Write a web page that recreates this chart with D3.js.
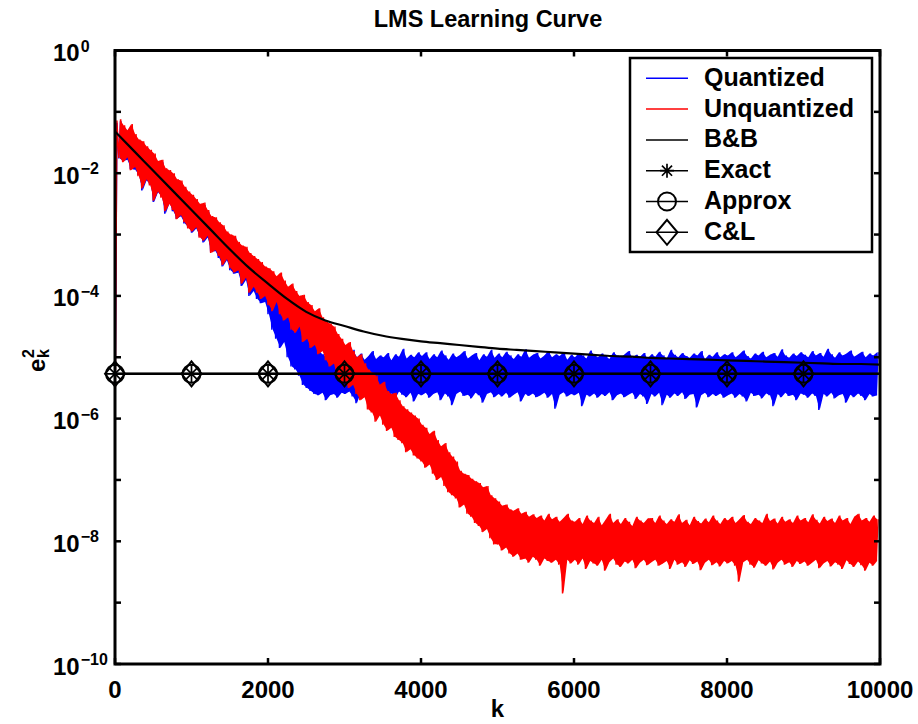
<!DOCTYPE html>
<html>
<head>
<meta charset="utf-8">
<script src="https://d3js.org/d3.v7.min.js"></script>
<style>
  body { margin: 0; background: #fff; }
  text { font-family: "Liberation Sans", Arial, Helvetica, sans-serif; font-weight: bold; fill: #000; }
</style>
</head>
<body>
<svg id="chart"></svg>
<script>
// learning curves, values are log10(e_k^2); one lo/hi pair per 50-sample bin
const binStep = 50;

const quantizedLo = [
  -6.00, -1.76, -1.80, -1.78, -1.93, -1.94, -2.03, -2.28, -2.12, -2.18, -2.47, -2.31, -2.38, -2.66, -2.49, -2.62, -2.74, -2.70, -2.82, -2.88,
  -2.97, -2.90, -3.03, -3.13, -3.05, -3.28, -3.27, -3.38, -3.52, -3.42, -3.58, -3.64, -3.62, -3.84, -3.74, -4.00, -3.92, -4.05, -4.12, -4.10,
  -4.30, -4.55, -4.70, -4.85, -4.75, -5.00, -5.15, -5.20, -5.30, -5.45, -5.50, -5.55, -5.60, -5.62, -5.58, -5.70, -5.62, -5.60, -5.66, -5.58,
  -5.60, -5.56, -5.64, -5.75, -5.58, -5.62, -5.55, -5.66, -5.60, -5.82, -5.57, -5.63, -5.59, -5.68, -5.56, -5.61, -5.65, -5.58, -5.72, -5.60,
  -5.62, -5.58, -5.66, -5.60, -5.57, -5.70, -5.59, -5.64, -5.78, -5.60, -5.56, -5.63, -5.61, -5.67, -5.58, -5.62, -5.74, -5.60, -5.57, -5.65,
  -5.60, -5.64, -5.58, -5.66, -5.61, -5.57, -5.72, -5.60, -5.63, -5.59, -5.65, -5.62, -5.58, -5.66, -5.60, -5.84, -5.61, -5.57, -5.64, -5.60,
  -5.62, -5.58, -5.80, -5.61, -5.64, -5.59, -5.66, -5.60, -5.63, -5.57, -5.70, -5.62, -5.59, -5.65, -5.61, -5.58, -5.68, -5.60, -5.64, -5.76,
  -5.60, -5.64, -5.58, -5.78, -5.61, -5.66, -5.59, -5.63, -5.57, -5.68, -5.61, -5.60, -5.82, -5.62, -5.58, -5.65, -5.60, -5.63, -5.59, -5.66,
  -5.62, -5.59, -5.66, -5.60, -5.64, -5.72, -5.58, -5.63, -5.61, -5.67, -5.59, -5.62, -5.80, -5.60, -5.65, -5.58, -5.63, -5.61, -5.70, -5.59,
  -5.61, -5.66, -5.59, -5.63, -5.86, -5.60, -5.64, -5.58, -5.67, -5.62, -5.60, -5.74, -5.61, -5.65, -5.59, -5.63, -5.70, -5.60, -5.64, -5.62
];
const quantizedHi = [
  -1.18, -1.15, -1.26, -1.33, -1.24, -1.40, -1.48, -1.52, -1.58, -1.66, -1.72, -1.82, -1.82, -1.95, -1.98, -2.04, -2.12, -2.16, -2.25, -2.33,
  -2.38, -2.45, -2.53, -2.52, -2.63, -2.73, -2.76, -2.83, -2.88, -2.98, -3.04, -3.05, -3.15, -3.22, -3.24, -3.34, -3.40, -3.45, -3.50, -3.58,
  -3.65, -3.75, -3.80, -3.90, -3.95, -4.05, -4.15, -4.30, -4.35, -4.50, -4.60, -4.70, -4.78, -4.90, -4.95, -5.00, -4.95, -4.88, -5.00, -4.92,
  -4.96, -5.02, -4.88, -5.00, -4.94, -5.04, -4.98, -4.90, -5.03, -4.97, -5.00, -4.93, -5.05, -4.95, -4.99, -4.86, -5.02, -4.96, -5.00, -4.92,
  -4.98, -4.92, -5.03, -4.95, -5.00, -4.89, -4.97, -5.04, -4.94, -5.00, -4.96, -4.90, -5.02, -4.97, -4.93, -5.05, -4.95, -4.99, -4.88, -5.01,
  -4.94, -5.00, -4.91, -4.97, -5.03, -4.95, -4.99, -4.87, -5.01, -4.96, -4.93, -5.02, -4.97, -4.90, -5.00, -4.95, -4.98, -4.92, -5.04, -4.96,
  -5.00, -4.93, -4.97, -5.02, -4.89, -4.96, -5.00, -4.94, -4.98, -5.03, -4.92, -4.97, -5.00, -4.95, -4.90, -5.01, -4.96, -4.99, -4.93, -5.02,
  -4.95, -4.99, -4.91, -4.97, -5.02, -4.88, -4.96, -5.00, -4.93, -4.98, -5.01, -4.94, -4.97, -4.90, -5.03, -4.96, -4.99, -4.92, -5.00, -4.95,
  -4.97, -4.92, -5.00, -4.95, -4.89, -4.98, -5.02, -4.94, -4.97, -4.91, -5.00, -4.96, -4.93, -4.99, -4.87, -4.97, -5.01, -4.94, -4.98, -4.92,
  -4.96, -5.00, -4.90, -4.97, -4.93, -4.99, -4.86, -4.95, -5.01, -4.92, -4.97, -4.94, -4.89, -4.99, -4.95, -4.91, -5.00, -4.94, -4.97, -4.92
];

const unquantizedLo = [
  -6.34, -1.75, -1.82, -1.74, -1.95, -1.90, -2.05, -2.25, -2.10, -2.20, -2.45, -2.30, -2.40, -2.62, -2.50, -2.60, -2.75, -2.68, -2.80, -2.90,
  -2.95, -2.88, -3.05, -3.10, -3.02, -3.30, -3.25, -3.35, -3.50, -3.40, -3.55, -3.62, -3.58, -3.80, -3.70, -3.95, -3.85, -3.95, -4.05, -4.00,
  -4.15, -4.25, -4.10, -4.30, -4.40, -4.35, -4.55, -4.60, -4.50, -4.75, -4.70, -4.85, -4.80, -4.95, -4.90, -5.05, -5.15, -5.10, -5.35, -5.40,
  -5.40, -5.50, -5.45, -5.60, -5.70, -5.65, -5.85, -5.90, -6.05, -5.95, -6.10, -6.20, -6.15, -6.30, -6.35, -6.40, -6.55, -6.50, -6.60, -6.65,
  -6.70, -6.80, -6.75, -6.90, -7.00, -6.95, -7.10, -7.20, -7.25, -7.30, -7.45, -7.40, -7.55, -7.60, -7.70, -7.75, -7.85, -7.80, -7.95, -8.05,
  -8.05, -8.15, -8.10, -8.20, -8.25, -8.20, -8.30, -8.28, -8.35, -8.25, -8.30, -8.40, -8.28, -8.32, -8.35, -8.30, -8.38, -8.85, -8.30, -8.36,
  -8.30, -8.38, -8.28, -8.45, -8.32, -8.36, -8.40, -8.30, -8.48, -8.34, -8.28, -8.38, -8.42, -8.33, -8.36, -8.30, -8.44, -8.35, -8.30, -8.39,
  -8.34, -8.30, -8.40, -8.36, -8.32, -8.45, -8.30, -8.38, -8.34, -8.42, -8.31, -8.37, -8.33, -8.47, -8.35, -8.30, -8.39, -8.34, -8.41, -8.32,
  -8.36, -8.32, -8.40, -8.66, -8.34, -8.30, -8.38, -8.43, -8.31, -8.36, -8.40, -8.33, -8.46, -8.35, -8.30, -8.38, -8.34, -8.42, -8.32, -8.37,
  -8.33, -8.40, -8.35, -8.30, -8.44, -8.36, -8.32, -8.41, -8.34, -8.38, -8.45, -8.31, -8.37, -8.42, -8.33, -8.39, -8.48, -8.35, -8.40, -8.32
];
const unquantizedHi = [
  -1.14, -1.12, -1.22, -1.30, -1.20, -1.36, -1.45, -1.48, -1.56, -1.62, -1.68, -1.80, -1.78, -1.92, -1.95, -2.00, -2.10, -2.12, -2.22, -2.30,
  -2.35, -2.42, -2.50, -2.48, -2.60, -2.70, -2.72, -2.80, -2.85, -2.95, -3.00, -3.02, -3.12, -3.18, -3.20, -3.30, -3.35, -3.40, -3.45, -3.52,
  -3.55, -3.60, -3.68, -3.62, -3.75, -3.85, -3.80, -3.92, -4.00, -3.98, -4.10, -4.15, -4.25, -4.20, -4.35, -4.42, -4.45, -4.50, -4.62, -4.70,
  -4.80, -4.75, -4.90, -5.00, -4.95, -5.10, -5.20, -5.25, -5.30, -5.45, -5.40, -5.55, -5.60, -5.58, -5.70, -5.80, -5.85, -5.90, -5.95, -6.00,
  -6.10, -6.15, -6.25, -6.20, -6.35, -6.45, -6.40, -6.55, -6.62, -6.70, -6.85, -6.90, -6.92, -6.98, -7.02, -7.05, -7.12, -7.10, -7.25, -7.30,
  -7.35, -7.42, -7.40, -7.48, -7.50, -7.46, -7.55, -7.52, -7.60, -7.56, -7.62, -7.58, -7.66, -7.55, -7.64, -7.60, -7.68, -7.62, -7.55, -7.66,
  -7.68, -7.62, -7.72, -7.58, -7.66, -7.70, -7.60, -7.74, -7.65, -7.55, -7.70, -7.64, -7.72, -7.62, -7.68, -7.75, -7.60, -7.66, -7.70, -7.63,
  -7.62, -7.70, -7.58, -7.66, -7.72, -7.64, -7.68, -7.56, -7.70, -7.65, -7.74, -7.60, -7.67, -7.71, -7.63, -7.69, -7.58, -7.66, -7.72, -7.62,
  -7.66, -7.60, -7.70, -7.64, -7.57, -7.68, -7.72, -7.62, -7.66, -7.70, -7.55, -7.67, -7.63, -7.71, -7.60, -7.68, -7.64, -7.70, -7.58, -7.66,
  -7.62, -7.69, -7.56, -7.65, -7.71, -7.60, -7.67, -7.63, -7.70, -7.58, -7.66, -7.62, -7.72, -7.60, -7.55, -7.66, -7.62, -7.68, -7.58, -7.64
];

// B&B theory curve, every 250 samples
const bbStep = 250;
const bbValues = [
  -1.32, -1.64, -1.96, -2.28, -2.60, -2.92, -3.24, -3.54, -3.80, -4.05,
  -4.26, -4.40, -4.49, -4.58, -4.65, -4.70, -4.74, -4.77, -4.80, -4.83,
  -4.86, -4.88, -4.90, -4.92, -4.94, -4.96, -4.98, -4.99, -5.01, -5.02,
  -5.03, -5.04, -5.05, -5.06, -5.07, -5.08, -5.09, -5.10, -5.11, -5.11, -5.12
];

// steady state predictions
const levelK = [0, 1000, 2000, 3000, 4000, 5000, 6000, 7000, 8000, 9000, 10000];
const exactValues = [-5.27, -5.27, -5.27, -5.27, -5.27, -5.27, -5.27, -5.27, -5.27, -5.27, -5.27];
const approxValues = [-5.27, -5.27, -5.27, -5.27, -5.27, -5.27, -5.27, -5.27, -5.27, -5.27, -5.27];
const clValues = [-5.27, -5.27, -5.27, -5.27, -5.27, -5.27, -5.27, -5.27, -5.27, -5.27, -5.27];
const markerCount = 10;

const xTicks = [0, 2000, 4000, 6000, 8000, 10000];
const yTickExps = [0, -1, -2, -3, -4, -5, -6, -7, -8, -9, -10];
const yLabelExps = [0, -2, -4, -6, -8, -10];
const legendNames = ["Quantized", "Unquantized", "B&B", "Exact", "Approx", "C&L"];

const W = 918, H = 724;
const margin = {left: 115, right: 38, top: 50.5, bottom: 60};

const svg = d3.select("#chart").attr("width", W).attr("height", H);

const x = d3.scaleLinear().domain([0, 10000]).range([margin.left, W - margin.right]);
const y = d3.scaleLog().domain([1e-10, 1]).range([H - margin.bottom, margin.top]);
const ly10 = v => y(Math.pow(10, v));

svg.append("defs").append("clipPath").attr("id", "plotclip")
  .append("rect")
  .attr("x", margin.left).attr("y", margin.top)
  .attr("width", W - margin.left - margin.right)
  .attr("height", H - margin.top - margin.bottom);

const plot = svg.append("g").attr("clip-path", "url(#plotclip)");

const line = d3.line()
  .x(d => x(d[0]))
  .y(d => ly10(d[1]));

const band = d3.area()
  .x(d => x(d[0]))
  .y0(d => ly10(d[1]))
  .y1(d => ly10(d[2]));

const noisyPoints = (lo, hi) => lo.flatMap((v, i) => [[i * binStep, v], [i * binStep + binStep / 2, hi[i]]]);
const bandPoints = (lo, hi) => lo.map((v, i) => [i * binStep + binStep / 4, v, hi[i]]).slice(1);

const drawNoisy = (lo, hi, color) => {
  plot.append("path")
    .attr("d", band(bandPoints(lo, hi)))
    .attr("fill", color).attr("stroke", "none");
  plot.append("path")
    .attr("d", line(noisyPoints(lo, hi)))
    .attr("fill", "none").attr("stroke", color).attr("stroke-width", 1.4);
};

drawNoisy(quantizedLo, quantizedHi, "#0000ff");
drawNoisy(unquantizedLo, unquantizedHi, "#ff0000");

plot.append("path")
  .attr("d", d3.line().x(d => x(d[0])).y(d => ly10(d[1])).curve(d3.curveMonotoneX)(bbValues.map((v, i) => [i * bbStep, v])))
  .attr("fill", "none").attr("stroke", "#000").attr("stroke-width", 2.2);

// marker shapes
const drawStar = (g, cx, cy, r) => {
  const d = r * 0.72;
  g.append("path")
    .attr("d", `M${cx - r},${cy}L${cx + r},${cy}M${cx},${cy - r}L${cx},${cy + r}` +
               `M${cx - d},${cy - d}L${cx + d},${cy + d}M${cx - d},${cy + d}L${cx + d},${cy - d}`)
    .attr("stroke", "#000").attr("stroke-width", 1.7).attr("fill", "none");
};
const drawCircle = (g, cx, cy, r) => {
  g.append("circle").attr("cx", cx).attr("cy", cy).attr("r", r)
    .attr("stroke", "#000").attr("stroke-width", 2).attr("fill", "none");
};
const drawDiamond = (g, cx, cy, w, h) => {
  g.append("path")
    .attr("d", `M${cx},${cy - h}L${cx + w},${cy}L${cx},${cy + h}L${cx - w},${cy}Z`)
    .attr("stroke", "#000").attr("stroke-width", 2).attr("fill", "none");
};

const levelSeries = [
  {values: exactValues, mark: (g, cx, cy) => drawStar(g, cx, cy, 8.5)},
  {values: approxValues, mark: (g, cx, cy) => drawCircle(g, cx, cy, 9)},
  {values: clValues, mark: (g, cx, cy) => drawDiamond(g, cx, cy, 10, 12.5)}
];

levelSeries.forEach(s => {
  const pts = s.values.map((v, i) => [levelK[i], v]);
  svg.append("path").attr("d", line(pts))
    .attr("fill", "none").attr("stroke", "#000").attr("stroke-width", 2.2);
});
levelSeries.forEach(s => {
  const g = svg.append("g");
  s.values.slice(0, markerCount).forEach((v, i) => {
    s.mark(g, x(levelK[i]), ly10(v));
  });
});

// axes box and inward ticks
const axes = svg.append("g");
const x0 = x(0), x1 = x(10000), y0 = y(1e-10), y1 = y(1);
const tickLen = 6;

xTicks.forEach(t => {
  axes.append("line").attr("x1", x(t)).attr("x2", x(t)).attr("y1", y0).attr("y2", y0 - tickLen)
    .attr("stroke", "#000").attr("stroke-width", 2.5);
  axes.append("line").attr("x1", x(t)).attr("x2", x(t)).attr("y1", y1).attr("y2", y1 + tickLen)
    .attr("stroke", "#000").attr("stroke-width", 2.5);
  axes.append("text").attr("x", x(t)).attr("y", 698)
    .attr("text-anchor", "middle").attr("font-size", 24).text(t);
});

yTickExps.forEach(e => {
  const ty = ly10(e);
  axes.append("line").attr("x1", x0).attr("x2", x0 + tickLen).attr("y1", ty).attr("y2", ty)
    .attr("stroke", "#000").attr("stroke-width", 2.5);
  axes.append("line").attr("x1", x1).attr("x2", x1 - tickLen).attr("y1", ty).attr("y2", ty)
    .attr("stroke", "#000").attr("stroke-width", 2.5);
});

yLabelExps.forEach(e => {
  const ty = ly10(e);
  const t = axes.append("text").attr("x", 53).attr("y", ty + 10.5).attr("font-size", 24);
  t.append("tspan").text("10");
  t.append("tspan").attr("dy", -9.5).attr("dx", 1).attr("font-size", 16)
    .text(e === 0 ? "0" : "\u2212" + Math.abs(e));
});

axes.append("rect")
  .attr("x", x0).attr("y", y1).attr("width", x1 - x0).attr("height", y0 - y1)
  .attr("fill", "none").attr("stroke", "#000").attr("stroke-width", 3);

// labels
svg.append("text").attr("x", 488).attr("y", 27).attr("text-anchor", "middle")
  .attr("font-size", 23.5).text("LMS Learning Curve");

svg.append("text").attr("x", x(5000)).attr("y", 717).attr("text-anchor", "middle")
  .attr("font-size", 24).text("k");

const yl = svg.append("g").attr("transform", "translate(45,372) rotate(-90)");
yl.append("text").attr("x", 0).attr("y", 0).attr("font-size", 24).text("e");
yl.append("text").attr("x", 14).attr("y", -11).attr("font-size", 16).text("2");
yl.append("text").attr("x", 14).attr("y", 4).attr("font-size", 16).text("k");

// legend
const lg = svg.append("g");
lg.append("rect").attr("x", 630).attr("y", 58).attr("width", 242).attr("height", 194)
  .attr("fill", "#fff").attr("stroke", "#000").attr("stroke-width", 2.5);

const legendColors = ["#0000ff", "#ff0000", "#000", "#000", "#000", "#000"];
const legendMarks = [null, null, null,
  (g, cx, cy) => drawStar(g, cx, cy, 7),
  (g, cx, cy) => drawCircle(g, cx, cy, 9),
  (g, cx, cy) => drawDiamond(g, cx, cy, 10.5, 12.5)];

legendNames.forEach((name, i) => {
  const ly = 78.3 + i * 30.8;
  lg.append("line").attr("x1", 646).attr("x2", 688).attr("y1", ly).attr("y2", ly)
    .attr("stroke", legendColors[i]).attr("stroke-width", 1.5);
  if (legendMarks[i]) legendMarks[i](lg, 667, ly);
  lg.append("text").attr("x", 704).attr("y", ly + 7.5).attr("font-size", 25).text(name);
});
</script>
</body>
</html>
